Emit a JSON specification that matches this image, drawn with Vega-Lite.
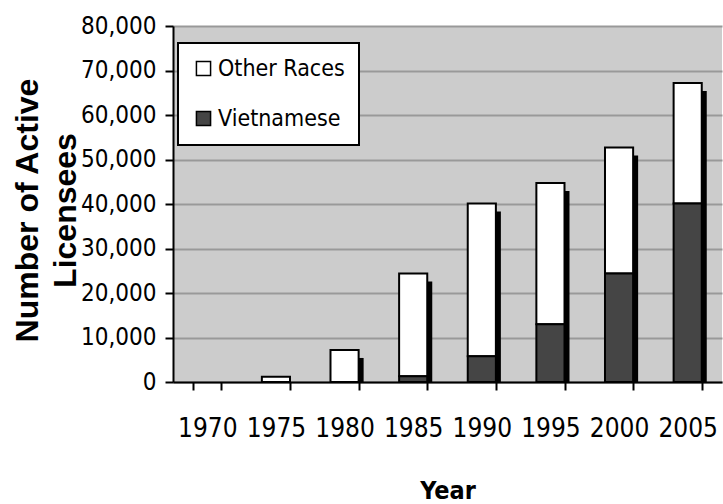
{
  "$schema": "https://vega.github.io/schema/vega-lite/v6.json",
  "width": 549,
  "height": 356,
  "autosize": {"type": "none"},
  "padding": {"left": 173, "top": 26, "right": 1, "bottom": 122},
  "background": "white",
  "config": {
    "view": {"fill": "#cccccc", "stroke": null},
    "font": "DejaVu Sans Condensed"
  },
  "data": {
    "values": [
      {"Year": "1970", "Group": "Other Races", "Count": 0},
      {"Year": "1970", "Group": "Vietnamese", "Count": 0},
      {"Year": "1975", "Group": "Other Races", "Count": 1200},
      {"Year": "1975", "Group": "Vietnamese", "Count": 0},
      {"Year": "1980", "Group": "Other Races", "Count": 7200},
      {"Year": "1980", "Group": "Vietnamese", "Count": 0},
      {"Year": "1985", "Group": "Other Races", "Count": 23100},
      {"Year": "1985", "Group": "Vietnamese", "Count": 1300},
      {"Year": "1990", "Group": "Other Races", "Count": 34300},
      {"Year": "1990", "Group": "Vietnamese", "Count": 5800},
      {"Year": "1995", "Group": "Other Races", "Count": 31700},
      {"Year": "1995", "Group": "Vietnamese", "Count": 13000},
      {"Year": "2000", "Group": "Other Races", "Count": 28300},
      {"Year": "2000", "Group": "Vietnamese", "Count": 24400},
      {"Year": "2005", "Group": "Other Races", "Count": 27100},
      {"Year": "2005", "Group": "Vietnamese", "Count": 40100}
    ]
  },
  "encoding": {
    "x": {
      "field": "Year",
      "type": "ordinal",
      "scale": {"domain": ["1970", "1975", "1980", "1985", "1990", "1995", "2000", "2005"], "paddingInner": 0.59, "paddingOuter": 0.295},
      "axis": {
        "title": "Year",
        "labelAngle": 0,
        "labelFont": "DejaVu Sans Condensed",
        "labelFontSize": 26,
        "labelColor": "black",
        "labelPadding": 25,
        "tickBand": "extent",
        "tickSize": 8,
        "tickWidth": 2,
        "tickColor": "black",
        "domainColor": "black",
        "domainWidth": 2,
        "titleFont": "DejaVu Sans Condensed",
        "titleFontSize": 25,
        "titleFontWeight": "bold",
        "titleColor": "black",
        "titleX": 274.5,
        "titleY": 116,
        "titleBaseline": "alphabetic",
        "titleAnchor": "middle",
        "titleAlign": "center"
      }
    }
  },
  "layer": [
    {
      "mark": {"type": "bar", "color": "black", "xOffset": 5, "yOffset": 8, "clip": true},
      "encoding": {
        "y": {"aggregate": "sum", "field": "Count", "type": "quantitative", "scale": {"domain": [0, 80000], "nice": false}}
      }
    },
    {
      "transform": [{"filter": "datum.Count > 0"}],
      "mark": {"type": "bar", "stroke": "black", "strokeWidth": 2},
      "encoding": {
        "y": {
          "field": "Count",
          "type": "quantitative",
          "stack": "zero",
          "scale": {"domain": [0, 80000], "nice": false},
          "axis": {
            "title": ["Number of Active", "Licensees"],
            "values": [0, 10000, 20000, 30000, 40000, 50000, 60000, 70000, 80000],
            "format": ",d",
            "grid": true,
            "gridColor": "#999999",
            "gridWidth": 2,
            "gridOpacity": 1,
            "labelFont": "DejaVu Sans Condensed",
            "labelFontSize": 24,
            "labelColor": "black",
            "labelPadding": 9,
            "tickSize": 8,
            "tickWidth": 2,
            "tickColor": "black",
            "domainColor": "black",
            "domainWidth": 2,
            "titleFont": "Liberation Sans",
            "titleFontSize": 32,
            "titleFontWeight": "bold",
            "titleColor": "black",
            "titleLineHeight": 38,
            "titleAngle": -90,
            "titleBaseline": "alphabetic",
            "titleAlign": "center",
            "titleX": -136,
            "titleY": 184
          }
        },
        "color": {
          "field": "Group",
          "type": "nominal",
          "scale": {"domain": ["Other Races", "Vietnamese"], "range": ["#ffffff", "#454545"]},
          "legend": {
            "title": null,
            "orient": "none",
            "legendX": 5,
            "legendY": 17,
            "fillColor": "white",
            "strokeColor": "black",
            "padding": 14,
            "rowPadding": 26,
            "symbolType": "square",
            "symbolSize": 200,
            "symbolStrokeColor": "black",
            "symbolStrokeWidth": 1.5,
            "symbolOpacity": 1,
            "labelFont": "DejaVu Sans Condensed",
            "labelFontSize": 23,
            "labelColor": "black",
            "labelOffset": 3,
            "labelLimit": 300,
            "encode": {"legend": {"update": {"strokeWidth": {"value": 2}}}}
          }
        },
        "order": {"field": "Group", "sort": "descending"}
      }
    }
  ]
}
